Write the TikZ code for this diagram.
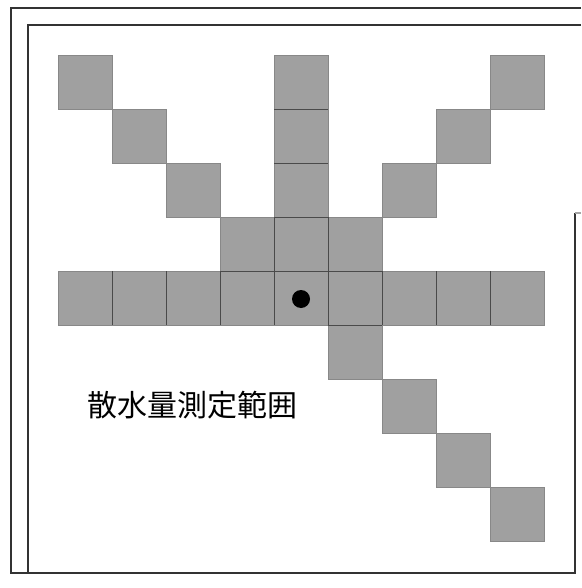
\documentclass[tikz,border=0pt]{standalone}
\usepackage{fontspec}
\newfontfamily\cjk{Noto Sans CJK JP}
\definecolor{cellgray}{HTML}{A0A0A0}
\definecolor{gridline}{HTML}{4A4A4A}
\definecolor{framecol}{HTML}{333333}
\tikzset{
  cell/.style={fill=cellgray, draw=cellgray!85!black, line width=0.4pt},
  inner line/.style={draw=gridline, line width=0.8pt},
  frame/.style={draw=framecol, line width=1.2pt},
}
\begin{document}
\begin{tikzpicture}[x=1pt,y=-1pt]
\useasboundingbox (0,0) rectangle (581,588);
\fill[white] (0,0) rectangle (581,588);
% frames
\draw[frame] (581,8) -- (11,8) -- (11,573) -- (575,573) -- (575,213);
\draw[frame] (581,25) -- (28,25) -- (28,573);
\draw[draw=gray!70, line width=1.2pt] (575,213) -- (581,213);
% cells
\foreach \c/\r in {0/0,4/0,8/0, 1/1,4/1,7/1, 2/2,4/2,6/2, 3/3,4/3,5/3,
                   0/4,1/4,2/4,3/4,4/4,5/4,6/4,7/4,8/4, 5/5,6/6,7/7,8/8}{
  \path[cell] ({58+54*\c},{55+54*\r}) rectangle ++(54,54);
}
% internal lines
\foreach \r in {1,2,3,4}{ \draw[inner line] (274,{55+54*\r}) -- (328,{55+54*\r}); }
\draw[inner line] (220,271) -- (382,271);
\draw[inner line] (274,217) -- (274,271);
\draw[inner line] (328,217) -- (328,271);
\foreach \c in {1,...,8}{ \draw[inner line] ({58+54*\c},271) -- ({58+54*\c},325); }
\draw[inner line] (328,325) -- (382,325);
% centre dot
\fill[black] (301,299) circle (9);
% label
\node[font=\cjk\fontsize{30}{33}\selectfont, anchor=center] (label) at (192,405) {散水量測定範囲};
\end{tikzpicture}
\end{document}
